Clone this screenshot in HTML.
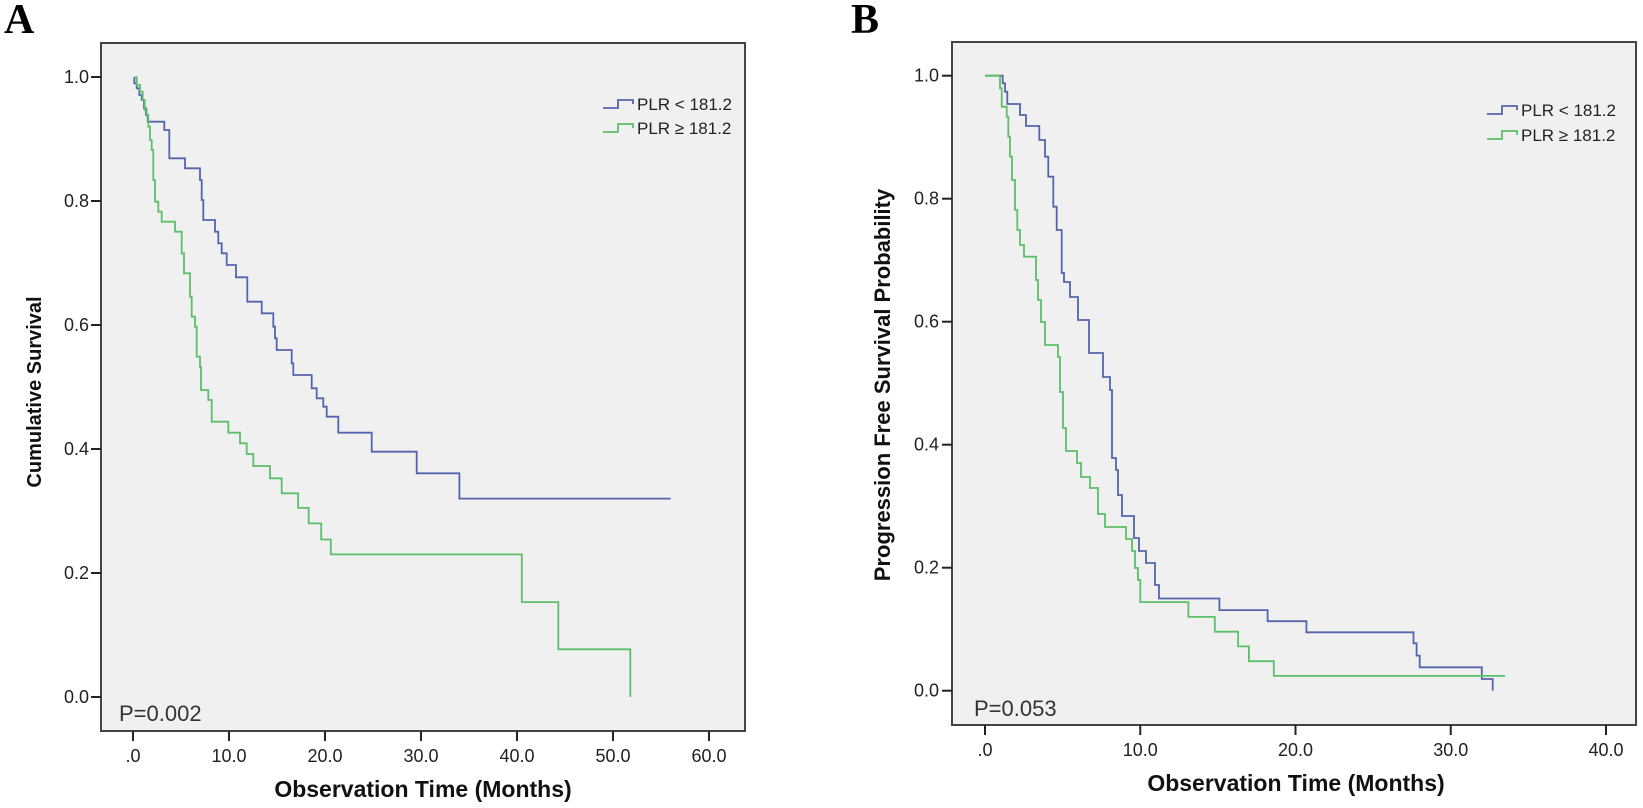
<!DOCTYPE html>
<html><head><meta charset="utf-8">
<style>
html,body{margin:0;padding:0;background:#fff;}
svg{display:block;}
text{font-family:"Liberation Sans",sans-serif;fill:#222;}
</style></head>
<body>
<svg id="s" width="1643" height="808" viewBox="0 0 1643 808" xmlns="http://www.w3.org/2000/svg">
<rect width="1643" height="808" fill="#fff"/>
<text x="4" y="33" style="font-family:'Liberation Serif',serif;font-weight:bold;font-size:42px;fill:#000">A</text>
<text x="851" y="33" style="font-family:'Liberation Serif',serif;font-weight:bold;font-size:42px;fill:#000">B</text>

<rect x="101" y="43" width="644" height="688" fill="#f0f0f0" stroke="#444" stroke-width="2"/>
<rect x="952" y="42" width="684" height="683" fill="#f0f0f0" stroke="#444" stroke-width="2"/>

<g id="ticks" stroke="#222" stroke-width="2"></g>
<g id="labels" font-size="18"></g>

<text x="423" y="797" text-anchor="middle" style="font-weight:bold;font-size:23px;fill:#111">Observation Time (Months)</text>
<text x="1296" y="791" text-anchor="middle" style="font-weight:bold;font-size:23px;fill:#111">Observation Time (Months)</text>
<text transform="translate(41,392) rotate(-90)" text-anchor="middle" style="font-weight:bold;font-size:20px;fill:#111">Cumulative Survival</text>
<text transform="translate(890,385) rotate(-90)" text-anchor="middle" style="font-weight:bold;font-size:22px;fill:#111">Progression Free Survival Probability</text>

<text x="119" y="721" style="font-size:22px;fill:#333">P=0.002</text>
<text x="974" y="716" style="font-size:22px;fill:#333">P=0.053</text>

<path d="M603 108 H618 V100 H633 V104" fill="none" stroke="#5565ad" stroke-width="1.8"/>
<text x="637" y="110" font-size="17">PLR &lt; 181.2</text>
<path d="M603 132 H618 V124 H633 V128" fill="none" stroke="#5cbf6a" stroke-width="1.8"/>
<text x="637" y="134" font-size="17">PLR ≥ 181.2</text>

<path d="M1487 114 H1502 V106 H1517 V110" fill="none" stroke="#5565ad" stroke-width="1.8"/>
<text x="1521" y="116" font-size="17">PLR &lt; 181.2</text>
<path d="M1487 139 H1502 V131 H1517 V135" fill="none" stroke="#5cbf6a" stroke-width="1.8"/>
<text x="1521" y="141" font-size="17">PLR ≥ 181.2</text>

<g id="curves" fill="none" stroke-width="1.8"></g>
</svg>
<script>
(function(){
var NS="http://www.w3.org/2000/svg";
var ticks=document.getElementById('ticks'),labels=document.getElementById('labels'),curves=document.getElementById('curves');
function line(x1,y1,x2,y2){var l=document.createElementNS(NS,'line');l.setAttribute('x1',x1);l.setAttribute('y1',y1);l.setAttribute('x2',x2);l.setAttribute('y2',y2);ticks.appendChild(l);}
function txt(x,y,s,anchor){var t=document.createElementNS(NS,'text');t.setAttribute('x',x);t.setAttribute('y',y);t.setAttribute('text-anchor',anchor);t.textContent=s;labels.appendChild(t);}
var Ax=function(t){return 133+t*9.6;}, Ay=function(s){return 697-s*620;};
for(var i=0;i<=5;i++){var v=i*0.2,y=Ay(v);line(91,y,101,y);txt(89,y+6,v.toFixed(1),'end');}
for(var i=0;i<=6;i++){var x=Ax(i*10);line(x,731,x,741);txt(x,762,i==0?'.0':(i*10).toFixed(1),'middle');}
var Bx=function(t){return 985+t*15.525;}, By=function(s){return 690.7-s*615;};
for(var i=0;i<=5;i++){var v=i*0.2,y=By(v);line(942,y,952,y);txt(939,y+6,v.toFixed(1),'end');}
for(var i=0;i<=4;i++){var x=Bx(i*10);line(x,725,x,735);txt(x,756,i==0?'.0':(i*10).toFixed(1),'middle');}

function draw(pts,color){
  var d='M'+pts[0][0].toFixed(1)+' '+pts[0][1].toFixed(1);
  for(var i=1;i<pts.length;i++){
    var p=pts[i-1],q=pts[i];
    d+=' L'+q[0].toFixed(1)+' '+p[1].toFixed(1)+' L'+q[0].toFixed(1)+' '+q[1].toFixed(1);
  }
  var e=document.createElementNS(NS,'path');e.setAttribute('d',d);e.setAttribute('stroke',color);curves.appendChild(e);
}
function z(list,ox,oy){return list.map(function(p){return [ox+p[0]/3,oy+p[1]/3];});}
function data(list,fx,fy){return list.map(function(p){return [fx(p[0]),fy(p[1])];});}
var BLUE='#5565ad',GREEN='#5cbf6a';

var a1=z([[403,232],[403,250],[410,250],[410,265],[418,265],[418,285],[425,285],[425,300],[432,300],[432,325],[438,325],[438,345],[443,345],[443,365],[493,365],[493,390],[505,390]],0,0);
var a2=z([[118,25],[165,25],[165,55],[210,55],[210,90],[215,90],[215,150],[220,150],[220,210],[255,210],[255,245],[265,245],[265,280],[275,280],[275,310],[290,310],[290,345],[318,345],[318,382],[352,382],[352,455],[395,455],[395,490],[430,490],[430,530],[435,530],[435,565],[440,565],[440,600],[485,600],[485,640],[490,640],[490,675],[545,675],[545,715],[560,715],[560,745],[580,745],[580,770],[590,770],[590,800],[625,800],[625,848],[725,848],[725,905],[860,905],[860,970]],130,150);
var a3=data([[34,0.32],[56,0.32]],Ax,Ay);
draw(a1.concat(a2,a3),BLUE);

var g1=z([[403,232],[410,255],[420,275],[428,300],[434,330],[440,345],[445,380],[450,420],[455,450]],0,0);
var g2=z([[62,0],[70,90],[75,155],[85,185],[95,215],[135,215],[135,245],[150,245],[155,310],[162,370],[175,370],[180,440],[185,500],[195,530],[200,620],[210,650],[213,720],[235,720],[235,750],[245,750],[245,815],[295,815],[295,848],[330,848],[330,880],[350,880],[350,912],[370,912],[370,948],[420,948],[420,985],[455,985],[455,1030]],130,150);
var g3=data([[17.2,0.305],[18.3,0.28],[19.6,0.254],[20.6,0.23],[40.5,0.153],[44.3,0.077],[51.8,0.0]],Ax,Ay);
draw(g1.concat(g2,g3),GREEN);

var b1=z([[555,137],[608,137],[608,160],[615,160],[615,185],[622,185],[622,222],[660,222],[660,255],[678,255],[678,288],[718,288],[718,330],[735,330],[735,380],[745,380],[745,440],[760,440],[760,530],[770,530],[770,600],[785,600]],800,30);
var b2=[[1061.7,273],[1064,273],[1064,282],[1070,282],[1070,297],[1078,297],[1078,320],[1089,320],[1089,353],[1103,353],[1103,377],[1110,377],[1110,390],[1112,390],[1112,458],[1116,458],[1116,470],[1118,470],[1118,495],[1122,495],[1122,516],[1134,516],[1134,538],[1139,538],[1139,551],[1146,551],[1146,563],[1155,563],[1155,585],[1159,585],[1159,598.5]];
var b3=data([[15.1,0.131],[18.2,0.113],[20.7,0.095],[27.6,0.077],[27.8,0.057],[28.0,0.038],[32.0,0.019],[32.7,0.0]],Bx,By);
draw(b1.concat(b2,b3),BLUE);

var c1=z([[555,137],[600,137],[600,175],[605,175],[605,230],[620,230],[620,260],[625,260],[625,320],[630,320],[630,380],[636,380],[636,450],[645,450],[645,540],[652,540],[652,600],[660,600],[660,645],[672,645],[672,680]],800,30);
var c2=[[1036,256.7],[1036,280],[1038,280],[1038,300],[1041,300],[1041,322],[1045,322],[1045,345],[1058,345],[1058,357],[1060,357],[1060,392],[1063,392],[1063,428],[1066,428],[1066,451],[1077,451],[1077,463],[1081,463],[1081,477],[1090,477],[1090,488],[1098,488],[1098,514],[1105,514],[1105,527],[1126,527],[1126,539],[1132,539],[1132,551],[1135,551],[1135,568],[1138,568],[1138,580]];
var c3=data([[10.0,0.144],[13.1,0.12],[14.8,0.096],[16.3,0.072],[17.0,0.048],[18.6,0.024],[33.5,0.024]],Bx,By);
draw(c1.concat(c2,c3),GREEN);
})();
</script>
</body></html>
